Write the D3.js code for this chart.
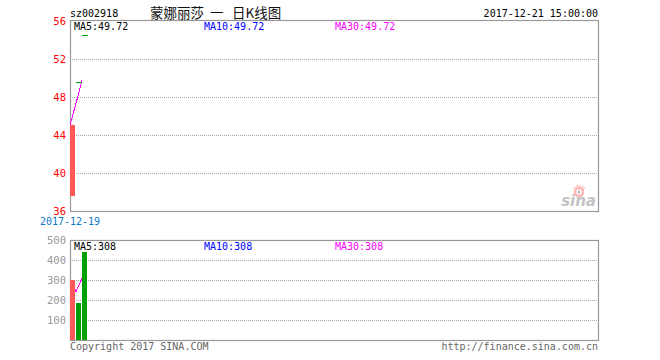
<!DOCTYPE html>
<html><head><meta charset="utf-8">
<script src="https://cdn.jsdelivr.net/npm/d3@7"></script>
<style>body{margin:0;background:#fff}svg{display:block}</style>
</head><body>
<svg id="c" width="660" height="360"></svg>
<script>
const dates = ["2017-12-19","2017-12-20","2017-12-21"];
const opens = [37.56, 49.58, 54.54];
const closes = [45.07, 49.58, 54.54];
const highs = [45.07, 49.58, 54.54];
const lows = [37.56, 49.58, 54.54];
const volumes = [300, 185, 440];
const priceTicks = [36, 40, 44, 48, 52, 56];
const volTicks = [100, 200, 300, 400, 500];
const code = "sz002918";
const titleParts = ["蒙娜丽莎", "一", "日K线图"];
const stamp = "2017-12-21 15:00:00";

const svg = d3.select("#c");
const mono = "'DejaVu Sans Mono', monospace";
const L = 70, R = 598;
const slots = 88;
const x = d3.scaleLinear().domain([0, slots]).range([L, R]);
const y = d3.scaleLinear().domain([36, 56]).range([211, 21]);
const yv = d3.scaleLinear().domain([0, 500]).range([340, 240]);
const bw = 5;

function ma(arr, n) {
  return arr.map((d, i) => d3.mean(arr.slice(Math.max(0, i - n + 1), i + 1)));
}

// gridlines price
svg.append("g").selectAll("line").data(priceTicks.filter(t => t > 36 && t < 56)).join("line")
  .attr("x1", L).attr("x2", R).attr("y1", d => Math.round(y(d)) + 0.5).attr("y2", d => Math.round(y(d)) + 0.5)
  .attr("stroke", "#aaa").attr("stroke-dasharray", "1,1");
// gridlines vol
svg.append("g").selectAll("line").data(volTicks.filter(t => t < 500)).join("line")
  .attr("x1", L).attr("x2", R).attr("y1", d => Math.round(yv(d)) + 0.5).attr("y2", d => Math.round(yv(d)) + 0.5)
  .attr("stroke", "#aaa").attr("stroke-dasharray", "1,1");

// panel borders
svg.append("rect").attr("x", L + 0.5).attr("y", 20.5).attr("width", R - L).attr("height", 191)
  .attr("fill", "none").attr("stroke", "#999").attr("stroke-width", 1.2);
svg.append("rect").attr("x", L + 0.5).attr("y", 240.5).attr("width", R - L).attr("height", 100)
  .attr("fill", "none").attr("stroke", "#999").attr("stroke-width", 1.2);

// price axis labels
svg.append("g").selectAll("text").data(priceTicks).join("text")
  .attr("x", 66).attr("y", d => y(d)).attr("dy", "0.36em").attr("text-anchor", "end")
  .attr("font-family", mono).attr("font-size", 10.5).attr("fill", "#f00").text(d => d);
// volume axis labels
svg.append("g").selectAll("text").data(volTicks).join("text")
  .attr("x", 66).attr("y", d => yv(d)).attr("dy", "0.36em").attr("text-anchor", "end")
  .attr("font-family", mono).attr("font-size", 10.5).attr("fill", "#999").text(d => d);

const days = dates.map((d, i) => ({i, o: opens[i], c: closes[i], h: highs[i], l: lows[i], v: volumes[i]}));
const colorOf = d => d.c > d.o ? "#ff5858" : "#00a000";

// MA lines (drawn beneath candles' flat marks)
const maDefs = [[5, "#000"], [10, "#0000ff"], [30, "#ff00ff"]];
maDefs.forEach(([n, col]) => {
  const pm = ma(closes, n), vm = ma(volumes, n);
  svg.append("path").datum(pm).attr("fill", "none").attr("stroke", col).attr("stroke-width", 1)
    .attr("shape-rendering", "crispEdges")
    .attr("d", d3.line().x((d, i) => x(i)).y(d => y(d)));
  svg.append("path").datum(vm).attr("fill", "none").attr("stroke", col).attr("stroke-width", 1)
    .attr("shape-rendering", "crispEdges")
    .attr("d", d3.line().x((d, i) => x(i)).y(d => yv(d)));
});

// candles
const cg = svg.append("g");
days.forEach(d => {
  const c = colorOf(d);
  const top = y(Math.max(d.o, d.c)), bot = y(Math.min(d.o, d.c));
  if (d.h > d.l) {
    cg.append("line").attr("x1", x(d.i) + bw / 2).attr("x2", x(d.i) + bw / 2)
      .attr("y1", y(d.h)).attr("y2", y(d.l)).attr("stroke", c);
  }
  cg.append("rect").attr("x", x(d.i)).attr("y", Math.round(top)).attr("width", bw + (d.c === d.o ? 1 : 0))
    .attr("height", Math.max(1, bot - top)).attr("fill", c).attr("shape-rendering", "crispEdges");
});

// volume bars
svg.append("g").selectAll("rect").data(days).join("rect")
  .attr("x", d => x(d.i)).attr("y", d => yv(d.v)).attr("width", bw)
  .attr("height", d => yv(0) - yv(d.v)).attr("fill", colorOf);

// MA labels
const lastP = n => ma(closes, n)[closes.length - 1];
const lastV = n => ma(volumes, n)[volumes.length - 1];
const labX = [74, 204, 335];
maDefs.forEach(([n, col], k) => {
  svg.append("text").attr("x", labX[k]).attr("y", 30).attr("font-family", mono).attr("font-size", 10)
    .attr("fill", col).text("MA" + n + ":" + (Math.round(lastP(n) * 100 - 1) / 100).toFixed(2));
  svg.append("text").attr("x", labX[k]).attr("y", 250).attr("font-family", mono).attr("font-size", 10)
    .attr("fill", col).text("MA" + n + ":" + Math.round(lastV(n)));
});

// header
svg.append("text").attr("x", 70).attr("y", 17).attr("font-family", mono).attr("font-size", 10)
  .attr("fill", "#000").text(code);
const tx = [150, 210, 232];
titleParts.forEach((t, k) => {
  svg.append("text").attr("x", tx[k]).attr("y", 18).attr("font-family", "'Noto Sans CJK SC', sans-serif")
    .attr("font-size", 13.5).attr("fill", "#111").text(t);
});
svg.append("text").attr("x", 598).attr("y", 17).attr("text-anchor", "end").attr("font-family", mono)
  .attr("font-size", 10).attr("fill", "#000").text(stamp);

// first date label
svg.append("text").attr("x", 70).attr("y", 225).attr("text-anchor", "middle").attr("font-family", mono)
  .attr("font-size", 10).attr("fill", "#0a78c8").text(dates[0]);

// footer
svg.append("text").attr("x", 70).attr("y", 350).attr("font-family", mono).attr("font-size", 10)
  .attr("fill", "#666").text("Copyright 2017 SINA.COM");
svg.append("text").attr("x", 598).attr("y", 350).attr("text-anchor", "end").attr("font-family", mono)
  .attr("font-size", 10).attr("fill", "#666").text("http://finance.sina.com.cn");

// sina watermark
const wm = svg.append("g").attr("opacity", 0.7);
wm.append("text").attr("x", 596).attr("y", 206).attr("text-anchor", "end")
  .attr("font-family", "'DejaVu Sans', sans-serif").attr("font-style", "italic").attr("font-weight", "bold")
  .attr("font-size", 15).attr("fill", "#aaa").text("sina");
wm.append("circle").attr("cx", 579).attr("cy", 192).attr("r", 4).attr("fill", "none")
  .attr("stroke", "#f99").attr("stroke-width", 2.5);
wm.append("circle").attr("cx", 579).attr("cy", 192).attr("r", 1.2).attr("fill", "#888");
[[-5,-5],[-2,-7],[1,-7],[4,-6],[6,-4]].forEach(([dx, dy]) => {
  wm.append("line").attr("x1", 579 + dx * 0.6).attr("y1", 192 + dy * 0.6).attr("x2", 579 + dx).attr("y2", 192 + dy)
    .attr("stroke", "#f99").attr("stroke-width", 1.3);
});
</script>
</body></html>
